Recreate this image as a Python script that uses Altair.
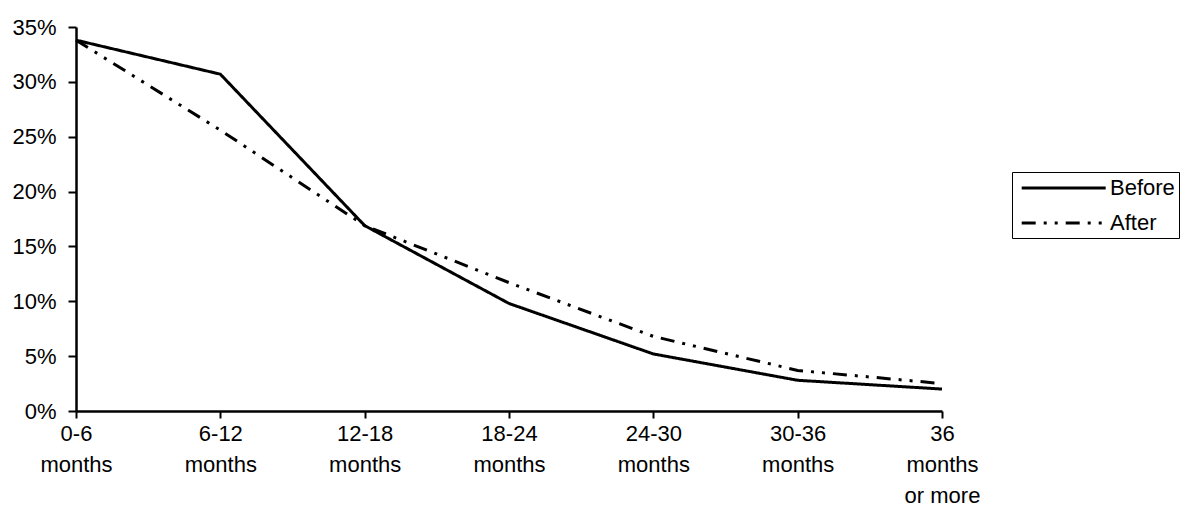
import altair as alt
import pandas as pd

categories = ["0-6\nmonths", "6-12\nmonths", "12-18\nmonths", "18-24\nmonths",
              "24-30\nmonths", "30-36\nmonths", "36\nmonths\nor more"]
before = [0.338, 0.307, 0.169, 0.098, 0.052, 0.028, 0.020]
after = [0.338, 0.256, 0.169, 0.117, 0.068, 0.037, 0.025]
series = ["Before", "After"]

rows = []
for i, c in enumerate(categories):
    rows.append({"cat": c, "series": series[0], "value": before[i]})
    rows.append({"cat": c, "series": series[1], "value": after[i]})
df = pd.DataFrame(rows)

FONT = "Liberation Sans"

chart = alt.Chart(df).mark_line(color="black", strokeWidth=3).encode(
    x=alt.X("cat:N", sort=categories, title=None,
            scale=alt.Scale(type="point", padding=0),
            axis=alt.Axis(labelAngle=0, labelExpr="split(datum.label, '\\n')",
                          labelFontSize=22, labelFont=FONT, labelColor="black",
                          labelLineHeight=31, labelPadding=5,
                          domainColor="black", domainWidth=2.5,
                          tickColor="black", tickWidth=2, tickSize=7,
                          labelBaseline="top")),
    y=alt.Y("value:Q", title=None,
            scale=alt.Scale(domain=[0, 0.35], nice=False),
            axis=alt.Axis(format=".0%", values=[0, 0.05, 0.1, 0.15, 0.2, 0.25, 0.3, 0.35],
                          labelFontSize=22, labelFont=FONT, labelColor="black",
                          labelPadding=12, grid=False,
                          domainColor="black", domainWidth=2.5,
                          tickColor="black", tickWidth=2, tickSize=8)),
    strokeDash=alt.StrokeDash("series:N", sort=series,
                              scale=alt.Scale(domain=series, range=[[1, 0], [14, 8, 3, 8, 3, 8]]),
                              legend=alt.Legend(title=None, orient="none", legendX=936, legendY=145,
                                                strokeColor="black", padding=4,
                                                symbolType="M-0.6,0H7.4", symbolSize=441,
                                                symbolStrokeColor="black", symbolStrokeWidth=2.8,
                                                labelOffset=70, labelFontSize=22, labelFont=FONT,
                                                labelColor="black", rowPadding=12)),
).properties(
    width=866, height=384,
    padding={"left": 76, "top": 27, "right": 241, "bottom": 96},
    autosize=alt.AutoSizeParams(type="none"),
    background="white",
).configure_view(stroke=None)

chart.save("out.html", embed_options={"renderer": "svg", "actions": False})
